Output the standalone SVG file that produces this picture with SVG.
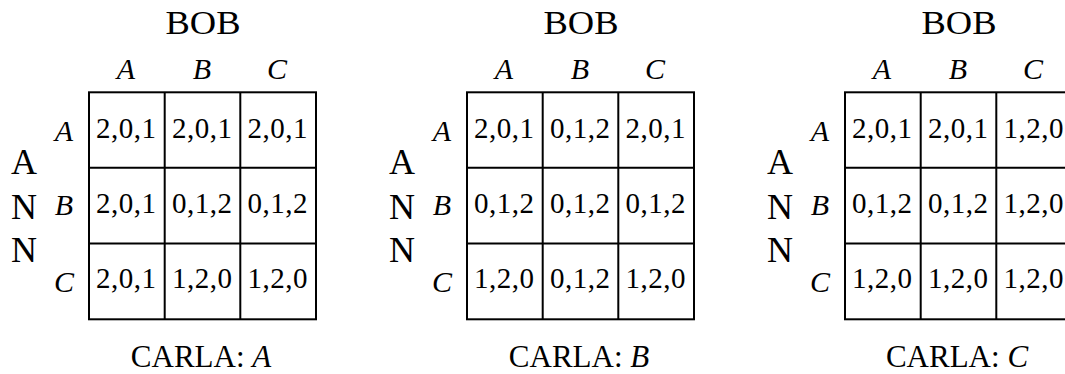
<svg xmlns="http://www.w3.org/2000/svg" width="1065" height="374" viewBox="0 0 1065 374">
<style>
text{font-family:"Liberation Serif","Times New Roman",serif;fill:#000;text-anchor:middle}
.t{font-size:33px}
.h{font-size:30px;font-style:italic}
.c{font-size:29px}
.n{font-size:36px}
.k{font-size:31px}
.i{font-style:italic}
.g{fill:none;stroke:#000;stroke-width:2}
</style>
<defs>
<g id="frame">
<rect class="g" x="89" y="92.3" width="227" height="227"/>
<path class="g" d="M164.7 92.3V319.3M240.3 92.3V319.3M89 167.8H316M89 243.5H316"/>
<text class="t" x="203" y="34.3" textLength="75" lengthAdjust="spacingAndGlyphs">BOB</text>
<text class="h" x="126" y="79.3">A</text>
<text class="h" x="202" y="79.3">B</text>
<text class="h" x="277" y="79.3">C</text>
<text class="h" x="64" y="140.5">A</text>
<text class="h" x="64" y="214.5">B</text>
<text class="h" x="64" y="292">C</text>
<text class="n" x="24" y="174.3">A</text>
<text class="n" x="24" y="219">N</text>
<text class="n" x="24" y="261.7">N</text>
</g>
</defs>
<g id="panel-A">
<use href="#frame"/>
<text class="c" x="126" y="137.7" textLength="60">2,0,1</text>
<text class="c" x="202" y="137.7" textLength="60">2,0,1</text>
<text class="c" x="277.5" y="137.7" textLength="60">2,0,1</text>
<text class="c" x="126" y="212.5" textLength="60">2,0,1</text>
<text class="c" x="202" y="212.5" textLength="60">0,1,2</text>
<text class="c" x="277.5" y="212.5" textLength="60">0,1,2</text>
<text class="c" x="126" y="287.5" textLength="60">2,0,1</text>
<text class="c" x="202" y="287.5" textLength="60">1,2,0</text>
<text class="c" x="277.5" y="287.5" textLength="60">1,2,0</text>
<text class="k" x="201" y="367">CARLA: <tspan class="i">A</tspan></text>
</g>
<g id="panel-B" transform="translate(378 0)">
<use href="#frame"/>
<text class="c" x="126" y="137.7" textLength="60">2,0,1</text>
<text class="c" x="202" y="137.7" textLength="60">0,1,2</text>
<text class="c" x="277.5" y="137.7" textLength="60">2,0,1</text>
<text class="c" x="126" y="212.5" textLength="60">0,1,2</text>
<text class="c" x="202" y="212.5" textLength="60">0,1,2</text>
<text class="c" x="277.5" y="212.5" textLength="60">0,1,2</text>
<text class="c" x="126" y="287.5" textLength="60">1,2,0</text>
<text class="c" x="202" y="287.5" textLength="60">0,1,2</text>
<text class="c" x="277.5" y="287.5" textLength="60">1,2,0</text>
<text class="k" x="201" y="367">CARLA: <tspan class="i">B</tspan></text>
</g>
<g id="panel-C" transform="translate(756 0)">
<use href="#frame"/>
<text class="c" x="126" y="137.7" textLength="60">2,0,1</text>
<text class="c" x="202" y="137.7" textLength="60">2,0,1</text>
<text class="c" x="277.5" y="137.7" textLength="60">1,2,0</text>
<text class="c" x="126" y="212.5" textLength="60">0,1,2</text>
<text class="c" x="202" y="212.5" textLength="60">0,1,2</text>
<text class="c" x="277.5" y="212.5" textLength="60">1,2,0</text>
<text class="c" x="126" y="287.5" textLength="60">1,2,0</text>
<text class="c" x="202" y="287.5" textLength="60">1,2,0</text>
<text class="c" x="277.5" y="287.5" textLength="60">1,2,0</text>
<text class="k" x="201" y="367">CARLA: <tspan class="i">C</tspan></text>
</g>
</svg>
